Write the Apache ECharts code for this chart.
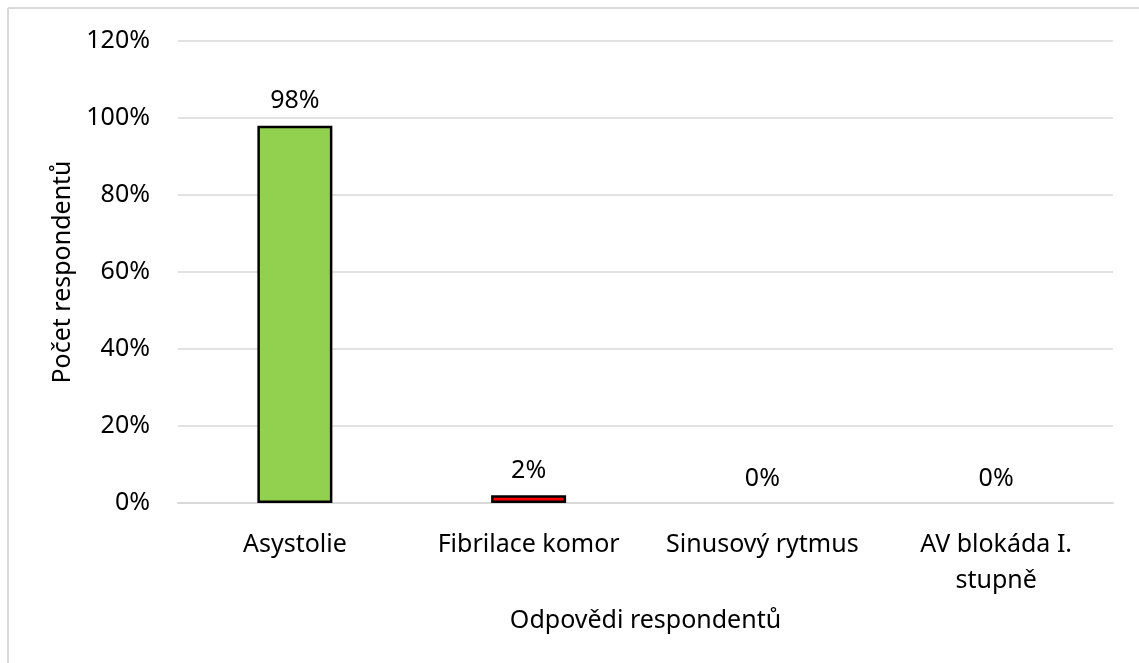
<!doctype html>
<html lang="cs">
<head>
<meta charset="UTF-8">
<title>Odpovědi respondentů</title>
<script src="https://cdn.jsdelivr.net/npm/echarts@6/dist/echarts.min.js"></script>
<style>
  html, body { margin: 0; padding: 0; background: #fff; }
  #main { width: 1139px; height: 663px; }
</style>
</head>
<body>
<div id="main"></div>
<script>
// data
var categories = ['Asystolie', 'Fibrilace komor', 'Sinusový rytmus', 'AV blokáda I.\nstupně'];
var values = [98, 2, 0, 0];
var barColors = ['#92d050', '#ff0000', '#92d050', '#92d050'];
var yTicks = [0, 20, 40, 60, 80, 100, 120];

var font = 'Noto Sans';
var fs = 25;
var chart = echarts.init(document.getElementById('main'));

var option = {
    backgroundColor: '#fff',
    animation: false,
    textStyle: { fontFamily: font },
    graphic: [
        { type: 'line', shape: { x1: 8, y1: 8, x2: 1139, y2: 8 }, style: { stroke: '#d9d9d9', lineWidth: 2 } },
        { type: 'line', shape: { x1: 8, y1: 8, x2: 8, y2: 663 }, style: { stroke: '#d9d9d9', lineWidth: 2 } }
    ],
    grid: { left: 178, right: 26, top: 41, bottom: 160 },
    xAxis: {
        type: 'category',
        data: categories,
        name: 'Odpovědi respondentů',
        nameLocation: 'middle',
        nameGap: 105,
        nameTextStyle: { fontSize: fs, color: '#000', fontFamily: font },
        axisTick: { show: false },
        axisLine: { lineStyle: { color: '#d9d9d9', width: 2 } },
        axisLabel: { fontSize: fs, color: '#000', margin: 24, lineHeight: 36, fontFamily: font, interval: 0 }
    },
    yAxis: {
        type: 'value',
        min: yTicks[0],
        max: yTicks[yTicks.length - 1],
        interval: 20,
        name: 'Počet respondentů',
        nameLocation: 'middle',
        nameGap: 100,
        nameTextStyle: { fontSize: fs, color: '#000', fontFamily: font },
        axisLine: { show: false },
        axisTick: { show: false },
        splitLine: { lineStyle: { color: '#d9d9d9', width: 1.5 } },
        axisLabel: { fontSize: fs, color: '#000', margin: 28, fontFamily: font, formatter: '{value}%' }
    },
    series: [{
        type: 'bar',
        barWidth: 75,
        data: values.map(function (v, i) {
            return {
                value: v,
                itemStyle: { color: barColors[i], borderWidth: v > 0 ? 2.5 : 0 }
            };
        }),
        itemStyle: { borderColor: '#000' },
        label: {
            show: true,
            position: 'top',
            distance: 12,
            fontSize: fs,
            color: '#000',
            fontFamily: font,
            formatter: '{c}%'
        }
    }]
};
chart.setOption(option);
</script>
</body>
</html>
